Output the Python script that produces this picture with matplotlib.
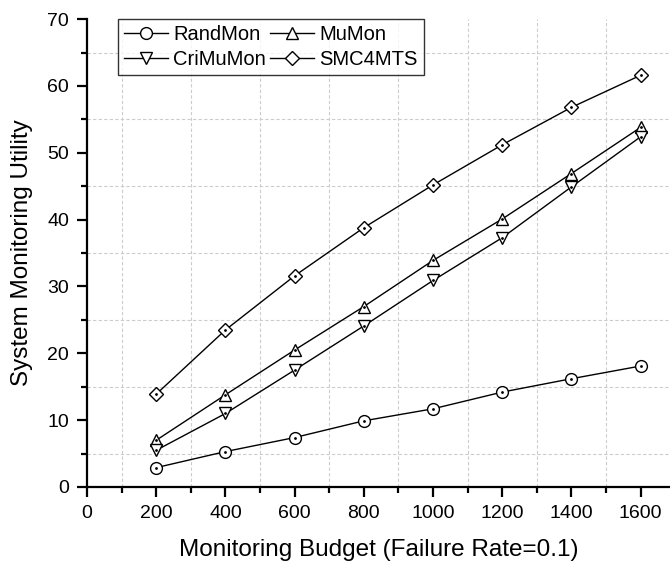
import matplotlib
matplotlib.use('Agg')
import matplotlib.pyplot as plt
from matplotlib.ticker import MultipleLocator

plt.rcParams['font.family'] = ['Liberation Sans', 'DejaVu Sans']

budget = [200, 400, 600, 800, 1000, 1200, 1400, 1600]
randmon = [2.9, 5.3, 7.4, 9.9, 11.7, 14.2, 16.2, 18.1]
mumon = [7.0, 13.8, 20.5, 27.0, 33.9, 40.1, 46.9, 53.8]
crimumon = [5.5, 11.0, 17.5, 24.1, 30.9, 37.3, 44.9, 52.4]
smc4mts = [13.9, 23.5, 31.6, 38.8, 45.2, 51.2, 56.8, 61.6]

series = [
    ('RandMon', randmon, 'o', 8.5),
    ('MuMon', mumon, '^', 9),
    ('CriMuMon', crimumon, 'v', 9),
    ('SMC4MTS', smc4mts, 'D', 7),
]

fig = plt.figure(figsize=(6.7, 5.63), dpi=100)
ax = fig.add_axes([0.13, 0.135, 0.87, 0.831])

handles = {}
for name, vals, mk, ms in series:
    h, = ax.plot(budget, vals, color='black', lw=1.0, marker=mk, ms=ms,
                 mfc='white', mec='black', mew=1.0, label=name)
    handles[name] = h
    # small centre dot like Origin symbols
    ax.plot(budget, vals, ls='none', marker='o', ms=1.0, color='black')

ax.set_xlim(0, 1685)
ax.set_ylim(0, 70)
ax.xaxis.set_major_locator(MultipleLocator(200))
ax.xaxis.set_minor_locator(MultipleLocator(100))
ax.yaxis.set_major_locator(MultipleLocator(10))
ax.yaxis.set_minor_locator(MultipleLocator(5))

ax.grid(False, which='major')
ax.grid(True, which='minor', ls=(0, (3, 2)), color='#cccccc', lw=0.8)
ax.set_axisbelow(True)

for s in ['top', 'right']:
    ax.spines[s].set_visible(False)
for s in ['left', 'bottom']:
    ax.spines[s].set_linewidth(1.6)

ax.tick_params(which='major', direction='out', length=7, width=1.6,
               labelsize=14, pad=6)
ax.tick_params(which='minor', direction='out', length=4, width=1.6)

ax.set_xlabel('Monitoring Budget (Failure Rate=0.1)', fontsize=17.5, labelpad=12)
ax.set_ylabel('System Monitoring Utility', fontsize=17.5, labelpad=10)

order = ['RandMon', 'CriMuMon', 'MuMon', 'SMC4MTS']
leg = ax.legend([handles[n] for n in order], order, loc='upper left', ncol=2,
                fontsize=14.5, frameon=True, fancybox=False, edgecolor='black',
                handlelength=2.2, handletextpad=0.25, columnspacing=0.2,
                borderpad=0.3, labelspacing=0.3, borderaxespad=0,
                bbox_to_anchor=(0.053, 1.0))
leg.get_frame().set_linewidth(1.0)

fig.savefig('out.png', dpi=100)
